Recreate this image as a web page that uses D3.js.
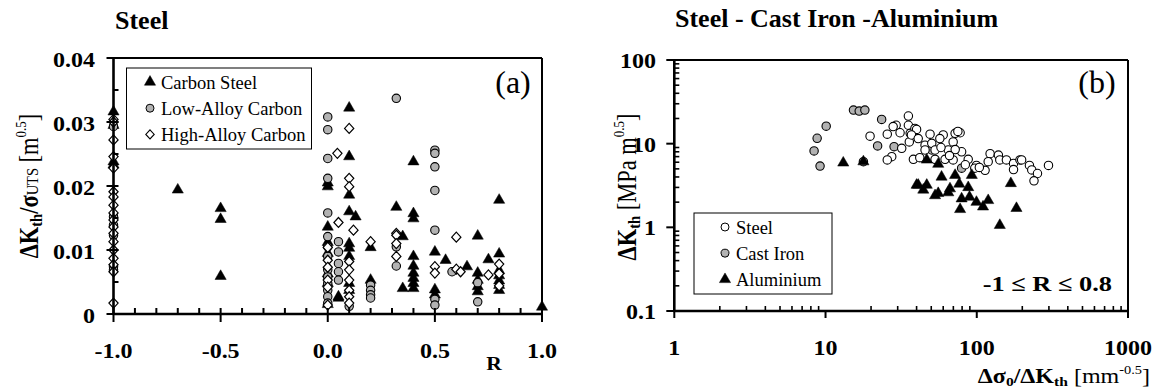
<!DOCTYPE html>
<html>
<head>
<meta charset="utf-8">
<script src="https://cdn.jsdelivr.net/npm/d3@7"></script>
<style>
  body { margin: 0; background: #fff; }
  text { font-family: "Liberation Serif", "Times New Roman", serif; fill: #000; }
</style>
</head>
<body>
<svg id="chart" width="1158" height="389"></svg>
<script>
// ---- panel (a): R vs dKth/sigmaUTS ----
const carbonSteel = [
  [-1, 0.0316], [-1, 0.0295], [-1, 0.0238], [-1, 0.0233],
  [-0.7, 0.0194], [-0.5, 0.0165], [-0.5, 0.0148], [-0.5, 0.0059],
  [0, 0.0205], [0, 0.0199], [0, 0.0136], [0, 0.0112], [0, 0.0095], [0, 0.0063], [0, 0.0048], [0, 0.0015],
  [0.05, 0.0027], [0.05, 0.0025],
  [0.1, 0.0322], [0.1, 0.0246], [0.1, 0.0186], [0.1, 0.016], [0.1, 0.011], [0.1, 0.0103], [0.1, 0.009], [0.1, 0.0048], [0.1, 0.0037],
  [0.13, 0.0152], [0.2, 0.0104], [0.2, 0.0053],
  [0.32, 0.0167], [0.35, 0.0121], [0.35, 0.004],
  [0.4, 0.0238], [0.4, 0.0157], [0.4, 0.0149], [0.4, 0.009], [0.4, 0.0075], [0.4, 0.0064], [0.4, 0.0056], [0.4, 0.0048], [0.4, 0.004],
  [0.5, 0.0097], [0.5, 0.0038], [0.5, 0.003], [0.55, 0.0084], [0.65, 0.0074],
  [0.7, 0.0122], [0.7, 0.0064], [0.7, 0.0053], [0.7, 0.0043], [0.7, 0.0035], [0.75, 0.0085],
  [0.8, 0.0178], [0.8, 0.0094], [0.8, 0.0068], [0.8, 0.006], [0.8, 0.0052], [0.8, 0.0045], [0.8, 0.0037],
  [1.0, 0.0011]
];
const lowAlloy = [
  [-1, 0.0293], [-1, 0.0152], [-1, 0.0139], [-1, 0.0123], [-1, 0.0074], [-1, 0.0069],
  [0, 0.0308], [0, 0.0288], [0, 0.0243], [0, 0.0212], [0, 0.0158], [0, 0.0121], [0, 0.0105], [0, 0.009],
  [0, 0.0069], [0, 0.0058], [0, 0.0048], [0, 0.0037], [0, 0.0027], [0, 0.0017],
  [0.05, 0.0113], [0.05, 0.0097], [0.05, 0.0079], [0.05, 0.0066], [0.05, 0.0053],
  [0.1, 0.0012], [0.2, 0.0045], [0.2, 0.0037], [0.2, 0.003], [0.2, 0.0025],
  [0.32, 0.0337], [0.32, 0.0105], [0.32, 0.0075],
  [0.5, 0.0256], [0.5, 0.0251], [0.5, 0.023], [0.5, 0.0193], [0.5, 0.0131], [0.5, 0.0023], [0.5, 0.0014],
  [0.58, 0.0066], [0.7, 0.0049], [0.7, 0.0019]
];
const highAlloy = [
  [-1, 0.0304], [-1, 0.030], [-1, 0.0272], [-1, 0.0246], [-1, 0.0228], [-1, 0.0191], [-1, 0.0183], [-1, 0.017],
  [-1, 0.0158], [-1, 0.0147], [-1, 0.0136], [-1, 0.0126], [-1, 0.0113], [-1, 0.01], [-1, 0.0087], [-1, 0.0077],
  [-1, 0.0066], [-1, 0.0017],
  [0, 0.0104], [0, 0.0084], [0, 0.0073], [0, 0.0053], [0, 0.0042], [0, 0.0014],
  [0.045, 0.0251], [0.05, 0.0143],
  [0.1, 0.029], [0.1, 0.0212], [0.1, 0.0199], [0.1, 0.0082], [0.1, 0.0069], [0.1, 0.0053], [0.1, 0.0037], [0.1, 0.0027], [0.1, 0.0017],
  [0.12, 0.0131], [0.2, 0.0113],
  [0.32, 0.0126], [0.32, 0.0123], [0.32, 0.011], [0.32, 0.009],
  [0.5, 0.0074], [0.5, 0.0064], [0.6, 0.012], [0.6, 0.007], [0.62, 0.0066], [0.75, 0.0061],
  [0.8, 0.0078], [0.8, 0.0063], [0.8, 0.0044]
];
const rTicks = [-1, -0.5, 0, 0.5, 1];
const ratioTicks = [0, 0.01, 0.02, 0.03, 0.04];

// ---- panel (b): dsigma0/dKth vs dKth ----
const steel = [
  [19.7, 12.3], [25.6, 13.0], [29.3, 16.6], [35.3, 21.4], [35.3, 16.6], [31.1, 13.5], [36.3, 13.3], [39, 15.2],
  [35.8, 10.5], [31.9, 8.8], [27.4, 7.0], [25.6, 6.4], [38.1, 6.5], [40, 14.8], [37, 12.7], [49.1, 13.0],
  [60, 12.7], [71.9, 13.3], [77.6, 13.5], [69.8, 10.5], [45.5, 9.6], [50.4, 10.1], [53, 8.4], [45.5, 8.4],
  [53, 6.5], [61.7, 6.5], [64.8, 8.4], [69.8, 6.4], [79.4, 8.0], [87.8, 6.5], [99.5, 5.5], [97, 5.1],
  [113.5, 4.8], [122.5, 7.6], [119, 6.1], [139, 7.3], [142, 6.4], [157, 6.4], [175, 5.8], [175, 4.9],
  [193, 6.4], [198, 6.4], [223, 5.5], [231, 4.85], [252, 4.4], [239, 3.6], [298, 5.5], [28, 16],
  [75, 14], [41, 11.5], [58, 9], [72, 8.5], [66, 7.2], [57, 11.5], [84, 5.6], [104, 5.2], [42, 6.8]
];
const castIron = [
  [8.4, 8.2], [8.8, 11.6], [10.1, 16.2], [9.2, 5.4], [15.3, 25.2], [16.7, 24.5], [18.2, 25.2],
  [22.1, 9.4], [23.5, 19.5], [17.8, 6.1], [28.4, 9.2], [50.4, 8.4], [79.4, 5.1]
];
const aluminium = [
  [13.1, 5.9], [17.8, 6.1], [40, 3.2], [46.7, 6.4], [55.6, 5.7], [58.5, 4.0], [71.9, 4.2], [92.7, 4.2],
  [41, 3.2], [46.7, 3.2], [44.3, 2.8], [53, 2.4], [55.6, 2.55], [66.5, 2.9], [64.8, 2.6], [76.6, 3.3],
  [87.8, 3.0], [79.4, 2.2], [89.5, 2.3], [99.5, 2.0], [110, 1.76], [119, 2.1], [77.6, 1.64], [142, 1.06],
  [168, 3.35], [183, 1.69]
];
const xLogTicks = [1, 10, 100, 1000];
const yLogTicks = [0.1, 1, 10, 100];

const svg = d3.select('#chart');
const SX = 1.2; // the axis text in the original is stretched sideways
const grey = '#b2b2b2';

const tri = d3.symbol().type(d3.symbolTriangle).size(54)();
const diamond = 'M0,-5L4.6,0L0,5L-4.6,0Z';

function wideText(g, x, y, str, size, anchor) {
  return g.append('text')
      .attr('transform', `translate(${x},${y}) scale(${SX},1)`)
      .attr('text-anchor', anchor)
      .attr('font-size', size + 'px')
      .attr('font-weight', 'bold')
      .text(str);
}

function drawMarks(g, data, x, y, kind, fill) {
  let sel = g.append('g').selectAll('path').data(data).enter();
  if (kind == 'circle') {
    sel.append('circle')
        .attr('cx', d => x(d[0])).attr('cy', d => y(d[1])).attr('r', 4.2)
        .attr('fill', fill).attr('stroke', '#000').attr('stroke-width', 1.1);
  } else {
    sel.append('path')
        .attr('d', kind == 'tri' ? tri : diamond)
        .attr('transform', d => `translate(${x(d[0])},${y(d[1])})`)
        .attr('fill', fill).attr('stroke', '#000').attr('stroke-width', kind == 'tri' ? 0.5 : 1.2);
  }
}

function legend(g, x0, y0, w, h, items) {
  g.append('rect').attr('x', x0).attr('y', y0).attr('width', w).attr('height', h)
      .attr('fill', '#fff').attr('stroke', '#000').attr('stroke-width', 1);
  items.forEach((it, i) => {
    let cy = y0 + 14 + i * 26.2;
    let mx = it.mx;
    if (it.kind == 'circle') {
      g.append('circle').attr('cx', mx).attr('cy', cy).attr('r', 4)
          .attr('fill', it.fill).attr('stroke', '#000').attr('stroke-width', 1);
    } else {
      g.append('path').attr('d', it.kind == 'tri' ? tri : 'M0,-4.5L4.2,0L0,4.5L-4.2,0Z')
          .attr('transform', `translate(${mx},${cy})`)
          .attr('fill', it.fill).attr('stroke', '#000').attr('stroke-width', it.kind == 'tri' ? 0.5 : 1.1);
    }
    g.append('text').attr('x', mx + 11).attr('y', cy + 6.5)
        .attr('font-size', '18.5px').text(it.label);
  });
}

// ================= panel (a) =================
let ga = svg.append('g');
let xa = d3.scaleLinear().domain([-1, 1]).range([113.5, 542]);
let ya = d3.scaleLinear().domain([0, 0.04]).range([314, 58]);

ga.append('text').attr('x', 115).attr('y', 29).attr('font-size', '26px')
    .attr('font-weight', 'bold').text('Steel');

// frame
ga.append('line').attr('x1', 107).attr('x2', 542).attr('y1', ya(0.04)).attr('y2', ya(0.04))
    .attr('stroke', '#000').attr('stroke-width', 2);
ga.append('line').attr('x1', 542).attr('x2', 542).attr('y1', ya(0.04)).attr('y2', ya(0))
    .attr('stroke', '#000').attr('stroke-width', 2);

drawMarks(ga, carbonSteel, xa, ya, 'tri', '#000');
drawMarks(ga, lowAlloy, xa, ya, 'circle', grey);
drawMarks(ga, highAlloy, xa, ya, 'diamond', '#fff');

// axes
ga.append('line').attr('x1', xa(-1)).attr('x2', xa(-1)).attr('y1', ya(0.04)).attr('y2', ya(0) + 1)
    .attr('stroke', '#000').attr('stroke-width', 2.6);
ga.append('line').attr('x1', xa(-1) - 1).attr('x2', 543).attr('y1', ya(0)).attr('y2', ya(0))
    .attr('stroke', '#000').attr('stroke-width', 2.6);
d3.range(0, 0.0401, 0.005).forEach(v => {
  let major = Math.abs(v * 100 - Math.round(v * 100)) < 1e-6;
  ga.append('line').attr('x1', xa(-1) - (major ? 7 : 0)).attr('x2', xa(-1) + 5)
      .attr('y1', ya(v)).attr('y2', ya(v)).attr('stroke', '#000').attr('stroke-width', 2);
});
d3.range(-1, 1.001, 0.1).forEach(v => {
  let major = rTicks.some(t => Math.abs(t - v) < 1e-6);
  ga.append('line').attr('x1', xa(v)).attr('x2', xa(v))
      .attr('y1', ya(0) - 6).attr('y2', ya(0) + (major ? 8 : 0))
      .attr('stroke', '#000').attr('stroke-width', 2);
});
ratioTicks.forEach(v => wideText(ga, 95, ya(v) + 8.5, v == 0 ? '0' : v.toFixed(2), 20, 'end'));
rTicks.forEach(v => wideText(ga, xa(v), 358, v.toFixed(1), 20, 'middle'));
wideText(ga, 494, 370, 'R', 18, 'middle');

// y title
let ta = ga.append('text')
    .attr('transform', 'translate(38,186) rotate(-90) scale(1,1.2)')
    .attr('text-anchor', 'middle').attr('font-size', '22.5px');
ta.append('tspan').attr('font-weight', 'bold').text('ΔK');
ta.append('tspan').attr('font-weight', 'bold').attr('font-size', '14.5px').attr('dy', 3).text('th');
ta.append('tspan').attr('font-weight', 'bold').attr('dy', -3).text('/σ');
ta.append('tspan').attr('font-size', '14.5px').text('UTS');
ta.append('tspan').text(' [m');
ta.append('tspan').attr('font-size', '13px').attr('dy', -10).text('0.5');
ta.append('tspan').attr('dy', 10).text(']');

legend(ga, 126.5, 68, 185, 81, [
  {kind: 'tri', fill: '#000', label: 'Carbon Steel', mx: 150},
  {kind: 'circle', fill: grey, label: 'Low-Alloy Carbon', mx: 150},
  {kind: 'diamond', fill: '#fff', label: 'High-Alloy Carbon', mx: 150}
]);
ga.append('text').attr('x', 513).attr('y', 93).attr('text-anchor', 'middle')
    .attr('font-size', '32px').text('(a)');

// ================= panel (b) =================
let gb = svg.append('g');
let xb = d3.scaleLog().domain([1, 1000]).range([674.3, 1128]);
let yb = d3.scaleLog().domain([0.1, 100]).range([311, 60]);

gb.append('text').attr('x', 675).attr('y', 27).attr('font-size', '26px')
    .attr('font-weight', 'bold').text('Steel - Cast Iron -Aluminium');

gb.append('line').attr('x1', 667).attr('x2', 1128).attr('y1', yb(100)).attr('y2', yb(100))
    .attr('stroke', '#000').attr('stroke-width', 2);
gb.append('line').attr('x1', 1128).attr('x2', 1128).attr('y1', yb(100)).attr('y2', yb(0.1) + 7)
    .attr('stroke', '#000').attr('stroke-width', 2);

drawMarks(gb, castIron, xb, yb, 'circle', grey);
drawMarks(gb, steel, xb, yb, 'circle', '#fff');
drawMarks(gb, aluminium, xb, yb, 'tri', '#000');

gb.append('line').attr('x1', xb(1)).attr('x2', xb(1)).attr('y1', yb(100)).attr('y2', yb(0.1) + 1)
    .attr('stroke', '#000').attr('stroke-width', 2.6);
gb.append('line').attr('x1', xb(1) - 1).attr('x2', 1129).attr('y1', yb(0.1)).attr('y2', yb(0.1))
    .attr('stroke', '#000').attr('stroke-width', 2.6);
yLogTicks.slice(0, 3).forEach(d => {
  d3.range(2, 10).forEach(m => {
    gb.append('line').attr('x1', xb(1)).attr('x2', xb(1) + 5)
        .attr('y1', yb(d * m)).attr('y2', yb(d * m)).attr('stroke', '#000').attr('stroke-width', 1.6);
  });
});
yLogTicks.forEach(v => {
  gb.append('line').attr('x1', xb(1) - 8).attr('x2', xb(1))
      .attr('y1', yb(v)).attr('y2', yb(v)).attr('stroke', '#000').attr('stroke-width', 2);
  wideText(gb, 656, yb(v) + 8, String(v), 20, 'end');
});
xLogTicks.slice(0, 3).forEach(d => {
  d3.range(2, 10).forEach(m => {
    gb.append('line').attr('x1', xb(d * m)).attr('x2', xb(d * m))
        .attr('y1', yb(0.1) - 5).attr('y2', yb(0.1)).attr('stroke', '#000').attr('stroke-width', 1.6);
  });
});
xLogTicks.forEach(v => {
  gb.append('line').attr('x1', xb(v)).attr('x2', xb(v))
      .attr('y1', yb(0.1)).attr('y2', yb(0.1) + 7).attr('stroke', '#000').attr('stroke-width', 2);
  wideText(gb, xb(v), 355, String(v), 20, 'middle');
});

let tbx = gb.append('text')
    .attr('transform', `translate(1150,383) scale(${SX},1)`)
    .attr('text-anchor', 'end').attr('font-size', '20px');
tbx.append('tspan').attr('font-weight', 'bold').text('Δσ');
tbx.append('tspan').attr('font-weight', 'bold').attr('font-size', '13px').attr('dy', 3).text('0');
tbx.append('tspan').attr('font-weight', 'bold').attr('dy', -3).text('/ΔK');
tbx.append('tspan').attr('font-weight', 'bold').attr('font-size', '13px').attr('dy', 3).text('th');
tbx.append('tspan').attr('dy', -3).text(' [mm');
tbx.append('tspan').attr('font-size', '12px').attr('dy', -9).text('-0.5');
tbx.append('tspan').attr('dy', 9).text(']');

let tby = gb.append('text')
    .attr('transform', 'translate(636,187) rotate(-90) scale(1,1.2)')
    .attr('text-anchor', 'middle').attr('font-size', '22.5px');
tby.append('tspan').attr('font-weight', 'bold').text('ΔK');
tby.append('tspan').attr('font-weight', 'bold').attr('font-size', '14.5px').attr('dy', 3).text('th');
tby.append('tspan').attr('dy', -3).text(' [MPa m');
tby.append('tspan').attr('font-size', '13px').attr('dy', -10).text('0.5');
tby.append('tspan').attr('dy', 10).text(']');

legend(gb, 694, 213, 138, 81, [
  {kind: 'circle', fill: '#fff', label: 'Steel', mx: 725},
  {kind: 'circle', fill: grey, label: 'Cast Iron', mx: 725},
  {kind: 'tri', fill: '#000', label: 'Aluminium', mx: 725}
]);
gb.append('text').attr('x', 1097).attr('y', 93).attr('text-anchor', 'middle')
    .attr('font-size', '32px').text('(b)');
wideText(gb, 1112, 291, '-1 ≤ R ≤ 0.8', 22, 'end');
</script>
</body>
</html>
